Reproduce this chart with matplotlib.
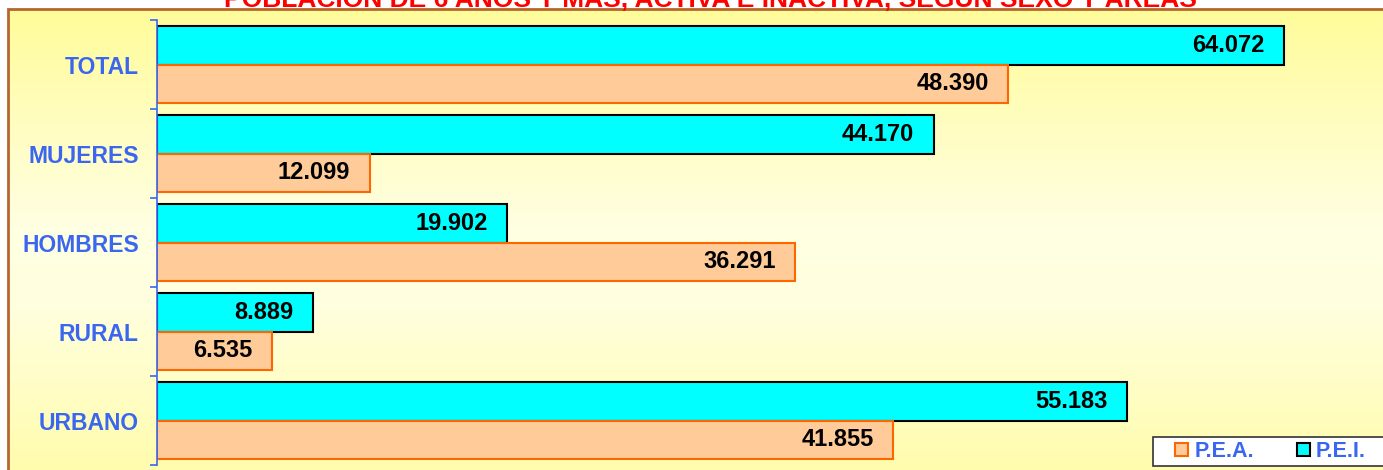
import numpy as np
import matplotlib.pyplot as plt
from matplotlib.patches import Rectangle
from matplotlib.colors import LinearSegmentedColormap

categories = ["TOTAL", "MUJERES", "HOMBRES", "RURAL", "URBANO"]
pei = [64072, 44170, 19902, 8889, 55183]
pea = [48390, 12099, 36291, 6535, 41855]
series_names = ["P.E.A.", "P.E.I."]
title = "POBLACIÓN DE 6 AÑOS Y MÁS, ACTIVA E INACTIVA, SEGÚN SEXO Y ÁREAS"

plt.rcParams['font.family'] = ['Liberation Sans', 'DejaVu Sans']

blue = "#3a66f0"
W, H = 1383, 470
fig = plt.figure(figsize=(W / 100, H / 100), dpi=100)

# background panel with yellow gradient and brown frame
bg = fig.add_axes([8 / W, -0.05, 1.05, (H - 9) / H + 0.05])
cmap = LinearSegmentedColormap.from_list(
    "bg", [(0.0, "#fffc9a"), (0.45, "#ffffe2"), (0.6, "#ffffe0"), (1.0, "#fffca6")])
grad = np.linspace(0, 1, 256).reshape(-1, 1)
bg.imshow(grad, aspect="auto", cmap=cmap, extent=[0, 1, 0, 1], origin="upper")
bg.set_xlim(0, 1)
bg.set_ylim(0, 1)
bg.axis("off")
bg.add_patch(Rectangle((0, 0), 1, 1, fill=False, edgecolor="#b5652e",
                       linewidth=2, transform=bg.transAxes, clip_on=False))

# title sits mostly above the visible area, as in the source image
fig.text(0.514, 1 - 7 / H, title, ha="center", va="baseline", color="red",
         fontsize=19, fontweight="bold")

# main bars
ax = fig.add_axes([157 / W, 5 / H, 1231 / W, 445 / H])
ax.patch.set_alpha(0)
y = np.arange(len(categories))
h = 0.433
ax.barh(y - h / 2, pei, height=h, color="#00ffff", edgecolor="black",
        linewidth=1.5, label=series_names[1])
ax.barh(y + h / 2, pea, height=h, color="#ffcc99", edgecolor="#ff6600",
        linewidth=1.5, label=series_names[0])

for i in range(len(categories)):
    for val, yy in ((pei[i], y[i] - h / 2), (pea[i], y[i] + h / 2)):
        txt = f"{val:,}".replace(",", ".")
        ax.annotate(txt, (val, yy), xytext=(-14, 0), textcoords="offset points",
                    ha="right", va="center", fontsize=17, fontweight="bold",
                    color="black")

ax.set_xlim(0, 70000)
ax.set_ylim(len(categories) - 0.5, -0.5)
ax.set_yticks(y)
ax.set_yticklabels(categories, fontsize=16.5, fontweight="bold", color=blue)
ax.tick_params(axis="y", which="major", length=0, pad=13)
ax.set_yticks(np.arange(len(categories) + 1) - 0.5, minor=True)
ax.tick_params(axis="y", which="minor", length=5, color=blue, width=1.2)
ax.set_xticks([])
for s in ["top", "right", "bottom"]:
    ax.spines[s].set_visible(False)
ax.spines["left"].set_color(blue)
ax.spines["left"].set_linewidth(1.2)

# legend box runs off the right edge in the source
fig.add_artist(Rectangle((1153 / W, 4 / H), 0.2, 29 / H, transform=fig.transFigure,
                         facecolor="white", edgecolor="#333333", linewidth=1.2,
                         zorder=4))
handles, labels = ax.get_legend_handles_labels()
leg = fig.legend(handles[::-1], labels[::-1], loc="center left",
                 bbox_to_anchor=(1170 / W, 18.5 / H), ncol=2, frameon=False,
                 fontsize=15.5, handlelength=0.6, handleheight=0.6,
                 handletextpad=0.28, columnspacing=2.0, borderpad=0.25,
                 borderaxespad=0)
leg.set_zorder(5)
for t in leg.get_texts():
    t.set_color(blue)
    t.set_fontweight("bold")

fig.savefig("out.png", dpi=100)
